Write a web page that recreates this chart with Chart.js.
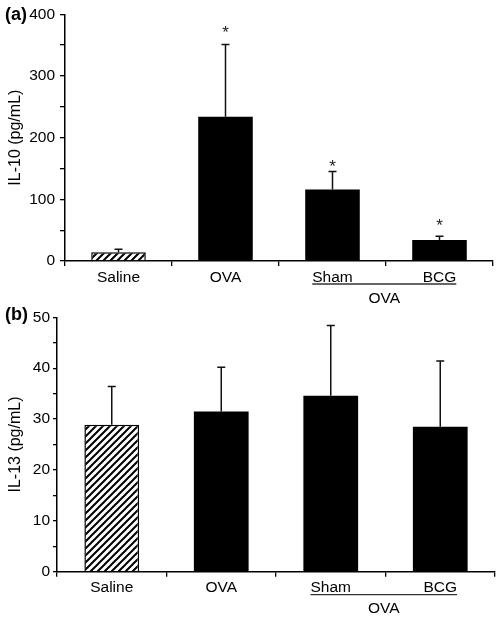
<!DOCTYPE html>
<html>
<head>
<meta charset="utf-8">
<script src="https://cdn.jsdelivr.net/npm/chart.js@4.4.0/dist/chart.umd.min.js"></script>
<style>
  body { margin: 0; background: #fff; }
  .panel { position: relative; width: 502px; }
  canvas { display: block; }
</style>
</head>
<body>
<div class="panel" style="height:305px"><canvas id="chartA" width="502" height="305"></canvas></div>
<div class="panel" style="height:314px"><canvas id="chartB" width="502" height="314"></canvas></div>
<script>
// groups along the x axis (Sham and BCG are both OVA-challenged)
const groups = ['Saline', 'OVA', 'Sham', 'BCG'];
const subGroup = 'OVA';

// (a) IL-10, pg/mL
const il10Means = [14, 234, 116, 34];
const il10Errors = [5, 117, 29, 6];
const il10Stars = [null, 378, 161, 65];   // where the * sits, in axis units
const il10Ticks = [0, 100, 200, 300, 400];

// (b) IL-13, pg/mL
const il13Means = [28.9, 31.5, 34.6, 28.5];
const il13Errors = [7.5, 8.7, 13.8, 12.9];
const il13Ticks = [0, 10, 20, 30, 40, 50];

const FONT = '"Liberation Sans", Arial, Helvetica, sans-serif';
Chart.defaults.font.family = FONT;
Chart.defaults.color = '#000';

function hatch(canvas, size) {
  const c = document.createElement('canvas');
  c.width = c.height = size;
  const g = c.getContext('2d');
  g.fillStyle = '#fff';
  g.fillRect(0, 0, size, size);
  g.strokeStyle = '#000';
  g.lineWidth = 2;
  g.beginPath();
  g.moveTo(-1, size + 1); g.lineTo(size + 1, -1);
  g.moveTo(-2, 2); g.lineTo(2, -2);
  g.moveTo(size - 2, size + 2); g.lineTo(size + 2, size - 2);
  g.stroke();
  return canvas.getContext('2d').createPattern(c, 'repeat');
}

const extras = {
  id: 'extras',
  afterDatasetsDraw(chart, args, opts) {
    const ctx = chart.ctx;
    const xs = chart.scales.x, ys = chart.scales.y;
    const bars = chart.getDatasetMeta(0).data;
    ctx.save();

    // upper error bars
    ctx.strokeStyle = '#111';
    ctx.lineWidth = 1.5;
    bars.forEach((bar, i) => {
      const top = ys.getPixelForValue(opts.means[i] + opts.errors[i]);
      ctx.beginPath();
      ctx.moveTo(bar.x, bar.y);
      ctx.lineTo(bar.x, top);
      ctx.moveTo(bar.x - 4, top);
      ctx.lineTo(bar.x + 4, top);
      ctx.stroke();
    });

    // significance stars
    if (opts.stars) {
      ctx.fillStyle = '#222';
      ctx.font = '17px ' + FONT;
      ctx.textAlign = 'center';
      ctx.textBaseline = 'alphabetic';
      opts.stars.forEach((s, i) => {
        if (s == null) return;
        ctx.fillText('*', bars[i].x, ys.getPixelForValue(s) + 10);
      });
    }

    // "OVA" bracket under Sham / BCG
    ctx.font = '15.5px ' + FONT;
    ctx.fillStyle = '#000';
    const x1 = xs.getPixelForValue(2) - ctx.measureText(groups[2]).width / 2;
    const x2 = xs.getPixelForValue(3) + ctx.measureText(groups[3]).width / 2;
    const base = ys.bottom;
    ctx.strokeStyle = '#333';
    ctx.lineWidth = 1.3;
    ctx.beginPath();
    ctx.moveTo(x1, base + 23);
    ctx.lineTo(x2, base + 23);
    ctx.stroke();
    ctx.textAlign = 'center';
    ctx.textBaseline = 'alphabetic';
    ctx.fillText(subGroup, (x1 + x2) / 2, base + 41.5);

    // panel letter
    ctx.font = 'bold 18px ' + FONT;
    ctx.textAlign = 'left';
    ctx.fillText(opts.panel, 5, opts.panelY);
    ctx.restore();
  }
};

function makeChart(id, cfg) {
  const canvas = document.getElementById(id);
  const pattern = hatch(canvas, 7);
  return new Chart(canvas, {
    type: 'bar',
    data: {
      labels: groups,
      datasets: [{
        data: cfg.means,
        backgroundColor: [pattern, '#000', '#000', '#000'],
        borderColor: '#000',
        borderWidth: [1.5, 0, 0, 0],
        categoryPercentage: 1,
        barPercentage: cfg.barPct
      }]
    },
    options: {
      responsive: false,
      devicePixelRatio: 1,
      animation: false,
      layout: { padding: { left: 0, top: cfg.top, right: cfg.right, bottom: 0 } },
      plugins: {
        legend: { display: false },
        tooltip: { enabled: false },
        extras: { means: cfg.means, errors: cfg.errors, stars: cfg.stars, panel: cfg.panel, panelY: cfg.panelY }
      },
      scales: {
        x: {
          offset: true,
          afterFit: s => { s.height = cfg.xHeight; },
          grid: { offset: true, drawOnChartArea: false, tickLength: 5, color: '#000', lineWidth: 1.3 },
          border: { display: true, color: '#000', width: 1.5 },
          ticks: { font: { size: 15.5 }, color: '#000', padding: 2, maxRotation: 0 }
        },
        y: {
          min: 0,
          max: cfg.max,
          afterFit: s => { s.width = cfg.yWidth; },
          afterBuildTicks: s => {
            const out = [];
            for (let v = 0; v <= cfg.max; v += cfg.minor) out.push({ value: v });
            s.ticks = out;
          },
          grid: { drawOnChartArea: false, tickLength: cfg.tickLen, color: '#000', lineWidth: 1.3 },
          border: { display: true, color: '#000', width: 1.5 },
          ticks: {
            font: { size: 15.5 }, color: '#000', padding: cfg.tickPad,
            callback: v => cfg.ticks.includes(v) ? String(v) : ''
          },
          title: {
            display: true, text: cfg.title, font: { size: 16 }, color: '#000',
            padding: { top: 6, bottom: 0 }
          }
        }
      }
    },
    plugins: [extras]
  });
}

makeChart('chartA', {
  means: il10Means, errors: il10Errors, stars: il10Stars, ticks: il10Ticks,
  max: 400, minor: 50, title: 'IL-10 (pg/mL)', panel: '(a)', panelY: 20,
  top: 12.6, right: 9, yWidth: 65, xHeight: 44, tickLen: 5, tickPad: 5, barPct: 0.51
});

makeChart('chartB', {
  means: il13Means, errors: il13Errors, stars: null, ticks: il13Ticks,
  max: 50, minor: 5, title: 'IL-13 (pg/mL)', panel: '(b)', panelY: 15,
  top: 10.7, right: 7, yWidth: 57, xHeight: 47.3, tickLen: 4, tickPad: 3, barPct: 0.5
});
</script>
</body>
</html>
